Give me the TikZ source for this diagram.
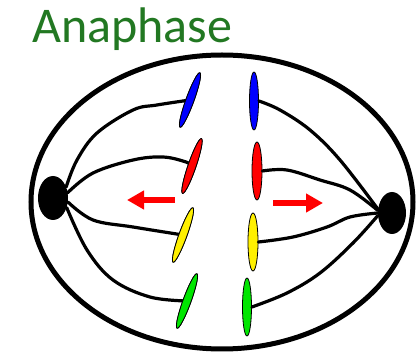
\documentclass[tikz,border=0pt]{standalone}
\usepackage{fontspec}
\setmainfont{Carlito}
\usetikzlibrary{shapes.geometric,arrows.meta}
\definecolor{titlegreen}{RGB}{34,120,34}
\definecolor{chromgreen}{RGB}{0,230,0}
\definecolor{chromyellow}{RGB}{255,240,0}
\begin{document}
\begin{tikzpicture}[x=1pt,y=-1pt,
  fiber/.style={line width=3.2pt, line join=round, line cap=round},
  chrom/.style={ellipse, draw=black, line width=0.8pt, inner sep=0pt,
                minimum width=8pt, minimum height=58pt},
  pole/.style={ellipse, fill=black, inner sep=0pt},
  pull/.style={draw=red, line width=6pt, -{Triangle[length=17pt,width=18pt]}}]
\useasboundingbox (0,0) rectangle (416,355);

% title
\node[anchor=base west, text=titlegreen, inner sep=0pt,
      font=\fontsize{50}{50}\selectfont] (title) at (32,43) {Anaphase};

% cell membrane
\node[ellipse, draw, line width=5pt, inner sep=0pt,
      minimum width=382pt, minimum height=294pt] (cell) at (222,202) {};

% spindle poles
\node[pole, minimum width=30pt, minimum height=44pt] (lp) at (53,198) {};
\node[pole, minimum width=28pt, minimum height=42pt] (rp) at (392,213) {};

% chromatids moving to the right pole
\node[chrom, fill=blue, minimum width=9pt] (rb) at (254,101) {};
\node[chrom, fill=red, minimum width=10pt] (rr) at (257,171) {};
\node[chrom, fill=chromyellow, minimum width=10pt] (ry) at (253,242) {};
\node[chrom, fill=chromgreen, minimum width=9pt] (rg) at (247,307) {};

% chromatids moving to the left pole (placed first so fibres can reach them)
\path (190,100) node[chrom, rotate=-20] (lb) {}
      (192,166) node[chrom, rotate=-19] (lr) {}
      (183,235) node[chrom, rotate=-20] (ly) {}
      (187,301) node[chrom, rotate=-20] (lg) {};

% spindle fibres, left
\draw[fiber] plot[smooth, tension=0.6] coordinates
  {(lp.40) (77,160) (97,133) (133,110) (157,105) (lb.center)};
\draw[fiber] plot[smooth, tension=0.6] coordinates
  {(lp.20) (93,173) (133,160) (163,157) (186,162) (lr.center)};
\draw[fiber] plot[smooth, tension=0.6] coordinates
  {(lp.-15) (93,220) (133,227) (ly.center)};
\draw[fiber] plot[smooth, tension=0.6] coordinates
  {(lp.-35) (87,250) (113,280) (150,297) (lg.center)};

% spindle fibres, right
\draw[fiber] plot[smooth, tension=0.6] coordinates
  {(rb.east) (280,110) (310,130) (340,160) (rp.165)};
\draw[fiber] plot[smooth, tension=0.6] coordinates
  {(rr.east) (287,170) (320,180) (350,190) (rp.170)};
\draw[fiber] plot[smooth, tension=0.6] coordinates
  {(ry.east) (293,237) (327,227) (350,217) (rp.180)};
\draw[fiber] plot[smooth, tension=0.6] coordinates
  {(rg.east) (287,293) (320,273) (353,243) (rp.190)};

% left chromatids drawn over the fibre ends
\node[chrom, fill=blue, rotate=-20] at (lb) {};
\node[chrom, fill=red, rotate=-19] at (lr) {};
\node[chrom, fill=chromyellow, rotate=-20] at (ly) {};
\node[chrom, fill=chromgreen, rotate=-20] at (lg) {};

% direction of movement
\coordinate (la0) at (175,200);
\coordinate (la1) at (127,200);
\coordinate (ra0) at (273,203);
\coordinate (ra1) at (323,203);
\draw[pull] (la0) -- (la1);
\draw[pull] (ra0) -- (ra1);
\end{tikzpicture}
\end{document}
